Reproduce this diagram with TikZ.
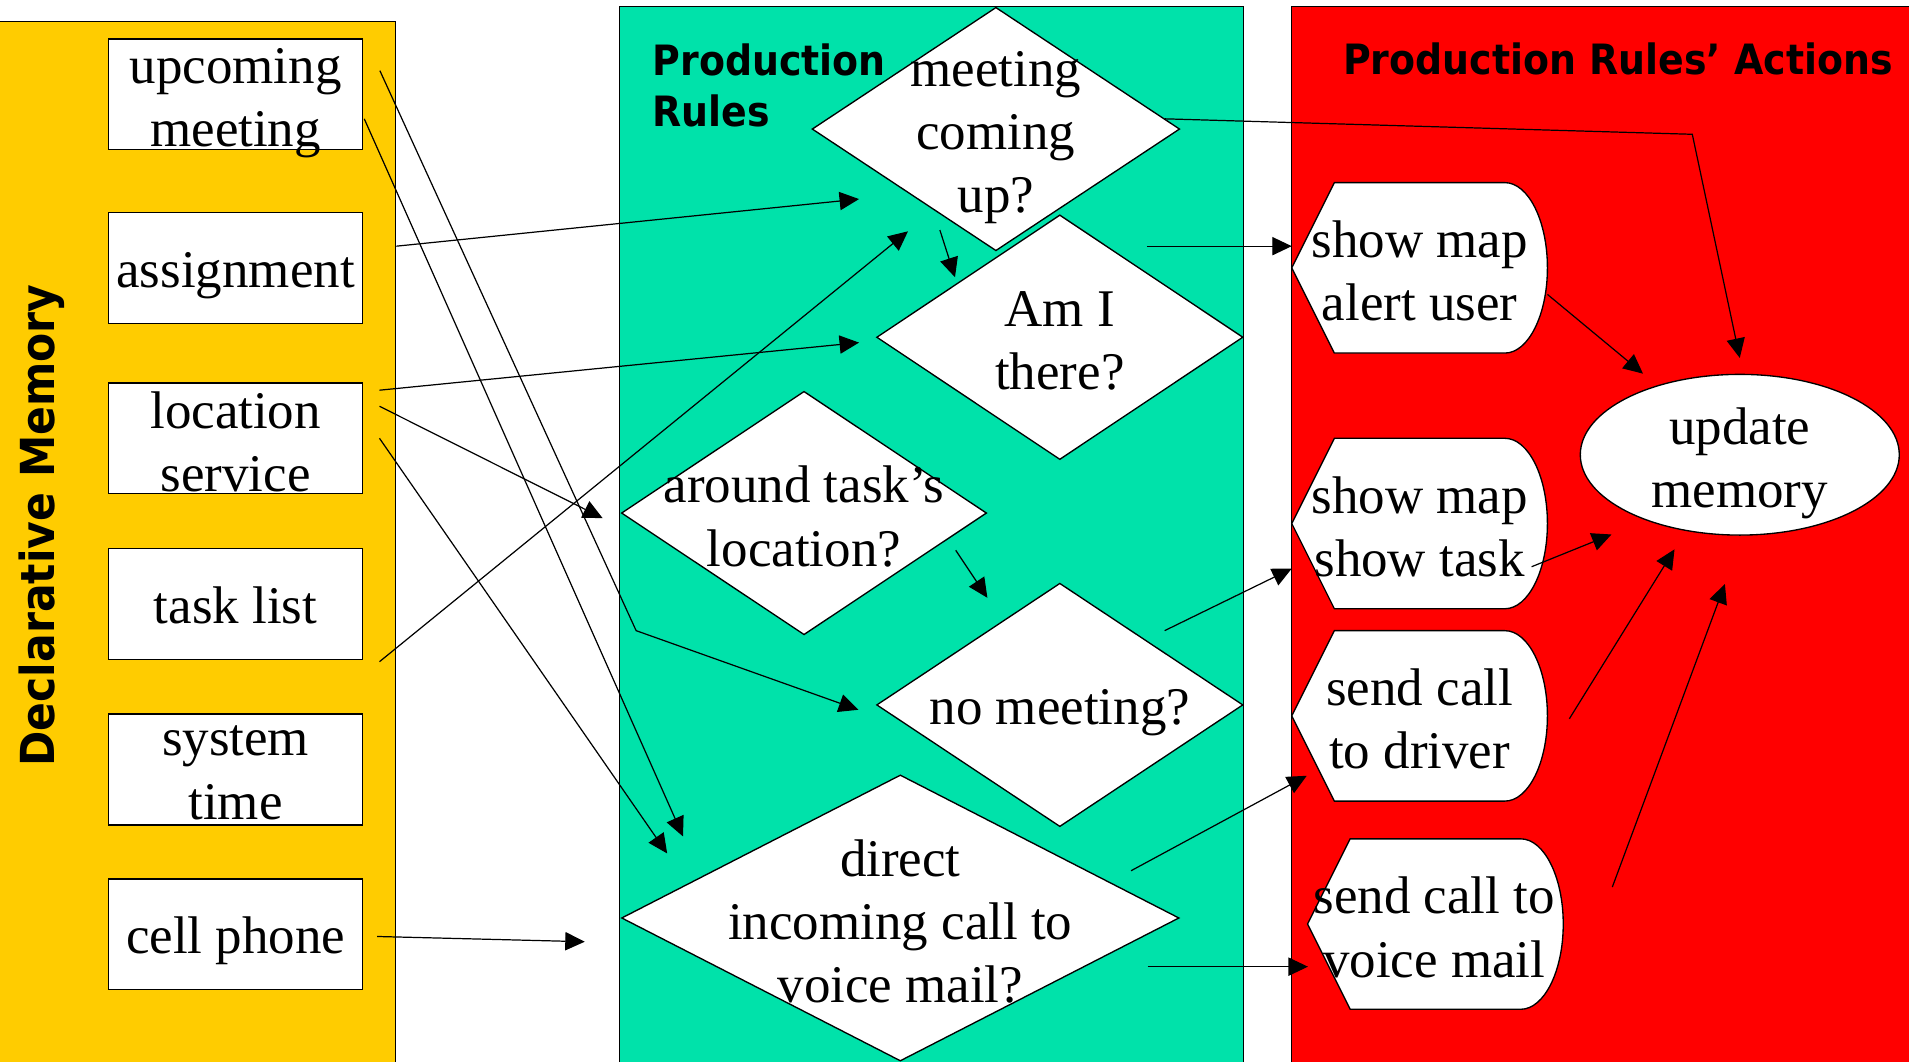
\documentclass[tikz,border=0pt]{standalone}
\usepackage{fontspec}
\setmainfont{Liberation Serif}
\newfontfamily\headfont{DejaVu Sans}[FakeStretch=0.907]
\usetikzlibrary{shapes.geometric,arrows.meta}
\definecolor{memyellow}{RGB}{255,204,0}
\definecolor{rulegreen}{RGB}{0,226,170}
\definecolor{actred}{RGB}{255,0,0}

\tikzset{
  panel/.style={draw=black, line width=0.9pt},
  txt/.style={font=\fontsize{43.5}{52}\selectfont, align=center, inner sep=0pt,
    execute at begin node={\rule{0pt}{42pt}},
    execute at end node={\rule[-10pt]{0pt}{10pt}}},
  mtxt/.style={txt, yshift=-7.5pt},
  head/.style={font=\headfont\bfseries\fontsize{34.3}{42}\selectfont, inner sep=0pt},
  membox/.style={draw, line width=1.1pt, fill=white, minimum width=209pt,
    minimum height=91pt, inner sep=0pt},
  rulebox/.style={draw, line width=1.1pt, fill=white, shape=diamond, inner sep=0pt},
  goal/.style={draw, line width=1.1pt, fill=white, ellipse, inner sep=0pt,
    minimum width=262pt, minimum height=132pt},
  conn/.style={draw, line width=1pt, -{Triangle[length=16pt,width=15pt]}},
  dispshape/.pic={
    \draw[line width=1.1pt, fill=white] (0,0) -- (35,-70) -- (175,-70)
      .. controls (194.33,-70) and (210,-38.66) .. (210,0)
      .. controls (210,38.66) and (194.33,70) .. (175,70)
      -- (35,70) -- cycle;}
}

\begin{document}
\begin{tikzpicture}[x=1pt,y=-1pt]
\useasboundingbox (0,0) rectangle (1568,872);
\fill[white] (0,0) rectangle (1568,872);

% three panels
\filldraw[panel, fill=memyellow] (-5,18) rectangle (325,880);
\filldraw[panel, fill=rulegreen] (509,5) rectangle (1021.5,880);
\filldraw[panel, fill=actred] (1061,5) rectangle (1580,880);

% panel headings
\node[head, font=\headfont\bfseries\fontsize{38.5}{46}\selectfont, rotate=90, anchor=base]
  (dmh) at (45,431.7) {Declarative Memory};
\node[head, align=left, anchor=north west] (prh) at (536,36) {Production\\Rules};
\node[head, anchor=base west] (pah) at (1103,61) {Production Rules’ Actions};

% declarative memory chunks
\node[membox, label={[mtxt]center:{upcoming\\meeting}}] (um) at (193.5,77.5) {};
\node[membox, label={[txt]center:{assignment}}] (as) at (193.5,220) {};
\node[membox, label={[mtxt]center:{location\\service}}] (ls) at (193.5,360) {};
\node[membox, label={[txt]center:{task list}}] (tl) at (193.5,496) {};
\node[membox, label={[mtxt]center:{system\\time}}] (st) at (193.5,632) {};
\node[membox, label={[txt]center:{cell phone}}] (cp) at (193.5,767.5) {};

% production rules
\node[rulebox, minimum width=302pt, minimum height=200pt,
  label={[mtxt]center:{meeting\\coming\\up?}}] (mc) at (818,106) {};
\node[rulebox, minimum width=301pt, minimum height=201pt,
  label={[mtxt]center:{Am I\\there?}}] (at) at (870.5,277) {};
\node[rulebox, minimum width=300pt, minimum height=200pt,
  label={[mtxt]center:{around task’s\\location?}}] (ak) at (660.4,421.4) {};
\node[rulebox, minimum width=301pt, minimum height=200pt,
  label={[txt]center:{no meeting?}}] (nm) at (870.5,579) {};
\node[rulebox, minimum width=458pt, minimum height=235pt,
  label={[mtxt]center:{direct\\incoming call to\\voice mail?}}] (dc) at (739.5,754) {};

% actions
\pic at (1061,220) {dispshape};
\node[mtxt] (a1) at (1166,220) {show map\\alert user};
\pic at (1061,430) {dispshape};
\node[mtxt] (a2) at (1166,430) {show map\\show task};
\pic at (1061,588) {dispshape};
\node[mtxt] (a3) at (1166,588) {send call\\to driver};
\pic at (1074,759) {dispshape};
\node[mtxt] (a4) at (1178,759) {send call to\\voice mail};
\node[goal, label={[mtxt]center:{update\\memory}}] (upd) at (1429,373.5) {};

% connector end points
\coordinate (umA) at (312,58);
\coordinate (bendA) at (522.5,518);
\coordinate (nmIn) at (705,583);
\coordinate (umB) at (299.2,97.6);
\coordinate (dcInA) at (561,687);
\coordinate (asO) at (325.6,202.2);
\coordinate (mcInA) at (705.6,163.5);
\coordinate (lsA) at (311.7,320.5);
\coordinate (atIn) at (705.6,281.4);
\coordinate (lsB) at (311.7,333.7);
\coordinate (akIn) at (495,425.6);
\coordinate (lsC) at (311.7,360);
\coordinate (dcInB) at (548,701);
\coordinate (tlO) at (311.7,543.5);
\coordinate (mcInB) at (745.8,190);
\coordinate (cpO) at (309.8,769.2);
\coordinate (dcInC) at (480.3,773.5);

\coordinate (mcO) at (772,189);
\coordinate (atInB) at (784.4,227.7);
\coordinate (akO) at (785,452);
\coordinate (nmInB) at (811,491);

\coordinate (atO) at (942,202.2);
\coordinate (a1In) at (1061,202.2);
\coordinate (nmO) at (956.6,518);
\coordinate (a2In) at (1061,467);
\coordinate (dcOA) at (929,715.2);
\coordinate (a3In) at (1073.3,637.2);
\coordinate (dcOB) at (942.7,794);
\coordinate (a4In) at (1074.3,794);
\coordinate (mcO2) at (956.6,97.6);
\coordinate (bendB) at (1390,110.3);
\coordinate (gIn1) at (1429,294);

\coordinate (a1O) at (1271,241.8);
\coordinate (gIn2) at (1349.5,306.9);
\coordinate (a2O) at (1258,465.5);
\coordinate (gIn3) at (1323.6,439);
\coordinate (a3O) at (1289,590.4);
\coordinate (gIn4) at (1375.4,451.2);
\coordinate (a4O) at (1324.3,728.6);
\coordinate (gIn5) at (1416.8,479.7);

% memory -> rules
\draw[conn] (umA) -- (bendA) -- (nmIn);
\draw[conn] (umB) -- (dcInA);
\draw[conn] (asO) -- (mcInA);
\draw[conn] (lsA) -- (atIn);
\draw[conn] (lsB) -- (akIn);
\draw[conn] (lsC) -- (dcInB);
\draw[conn] (tlO) -- (mcInB);
\draw[conn] (cpO) -- (dcInC);

% rule -> rule
\draw[conn] (mcO) -- (atInB);
\draw[conn] (akO) -- (nmInB);

% rules -> actions
\draw[conn] (atO) -- (a1In);
\draw[conn] (nmO) -- (a2In);
\draw[conn] (dcOA) -- (a3In);
\draw[conn] (dcOB) -- (a4In);
\draw[conn] (mcO2) -- (bendB) -- (gIn1);

% actions -> memory update
\draw[conn] (a1O) -- (gIn2);
\draw[conn] (a2O) -- (gIn3);
\draw[conn] (a3O) -- (gIn4);
\draw[conn] (a4O) -- (gIn5);
\end{tikzpicture}
\end{document}
